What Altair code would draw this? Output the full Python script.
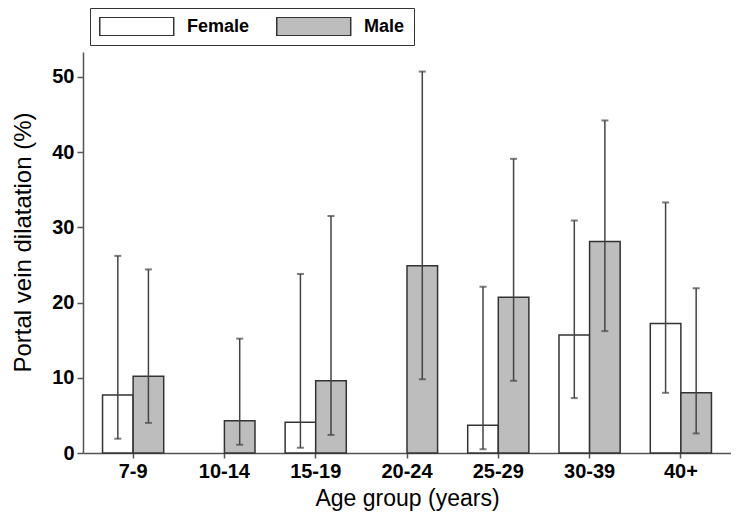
import altair as alt
import pandas as pd

ages = ["7-9", "10-14", "15-19", "20-24", "25-29", "30-39", "40+"]
female = [7.7, None, 4.1, None, 3.7, 15.7, 17.2]
female_lo = [1.9, None, 0.7, None, 0.5, 7.3, 8.0]
female_hi = [26.2, None, 23.8, None, 22.1, 30.9, 33.3]
male = [10.2, 4.3, 9.6, 24.9, 20.7, 28.1, 8.0]
male_lo = [4.0, 1.1, 2.4, 9.8, 9.6, 16.2, 2.6]
male_hi = [24.4, 15.2, 31.5, 50.7, 39.1, 44.2, 21.9]
sexes = ["Female", "Male"]

rows = []
for i, a in enumerate(ages):
    for s, v, lo, hi in (("Female", female[i], female_lo[i], female_hi[i]),
                         ("Male", male[i], male_lo[i], male_hi[i])):
        if v is not None:
            rows.append({"age": a, "sex": s, "value": v, "lo": lo, "hi": hi})
df = pd.DataFrame(rows)

FONT = "Liberation Sans"

x = alt.X("age:N", sort=ages, scale=alt.Scale(paddingInner=0.33, paddingOuter=0.214),
          axis=alt.Axis(title="Age group (years)", labelAngle=0, labelFontSize=20,
                        labelFontWeight="bold", titleFontSize=23, titleFontWeight="normal",
                        tickSize=5, labelPadding=3, titlePadding=6))
xo = alt.XOffset("sex:N", sort=sexes, scale=alt.Scale(domain=sexes, paddingInner=0, paddingOuter=0))
yscale = alt.Scale(domain=[0, 53.3], nice=False)

bars = alt.Chart(df).mark_bar(stroke="#333333", strokeWidth=1.5).encode(
    x=x, xOffset=xo,
    y=alt.Y("value:Q", scale=yscale,
            axis=alt.Axis(title="Portal vein dilatation (%)", values=[0, 10, 20, 30, 40, 50],
                          labelFontSize=20, labelFontWeight="bold", titleFontSize=24,
                          titleFontWeight="normal", tickSize=6, labelPadding=3, titlePadding=16,
                          titleY=190, grid=False)),
    fill=alt.Fill("sex:N", scale=alt.Scale(domain=sexes, range=["#ffffff", "#bdbdbd"]),
                  legend=alt.Legend(title=None, orient="none", direction="horizontal",
                                    legendX=7, legendY=-44, padding=9, clipHeight=19,
                                    strokeColor="#333333",
                                    symbolType="M-1,-1H7V1H-1Z", symbolSize=342,
                                    symbolStrokeColor="#333333", symbolStrokeWidth=1.5,
                                    labelFontSize=18, labelFontWeight="bold", labelFont=FONT,
                                    labelOffset=68, columnPadding=26, labelColor="black")),
)

rules = alt.Chart(df).mark_rule(color="#444444", strokeWidth=1.5).encode(
    x=x, xOffset=xo, y=alt.Y("lo:Q", scale=yscale), y2="hi:Q"
)
cap_lo = alt.Chart(df).mark_tick(color="#444444", size=7, thickness=2, orient="horizontal").encode(
    x=x, xOffset=xo, y=alt.Y("lo:Q", scale=yscale)
)
cap_hi = alt.Chart(df).mark_tick(color="#444444", size=7, thickness=2, orient="horizontal").encode(
    x=x, xOffset=xo, y=alt.Y("hi:Q", scale=yscale)
)

chart = alt.layer(bars, rules, cap_lo, cap_hi).properties(
    width=648, height=401, autosize="none",
    padding={"left": 75, "top": 44, "right": 0, "bottom": 59},
    background="white",
).configure_view(stroke=None).configure_axis(
    labelFont=FONT, titleFont=FONT, labelColor="black", titleColor="black",
    domainColor="#555555", tickColor="#555555", domainWidth=1.5, tickWidth=1.5,
)

chart.save("out.html", embed_options={"renderer": "svg", "actions": False})
